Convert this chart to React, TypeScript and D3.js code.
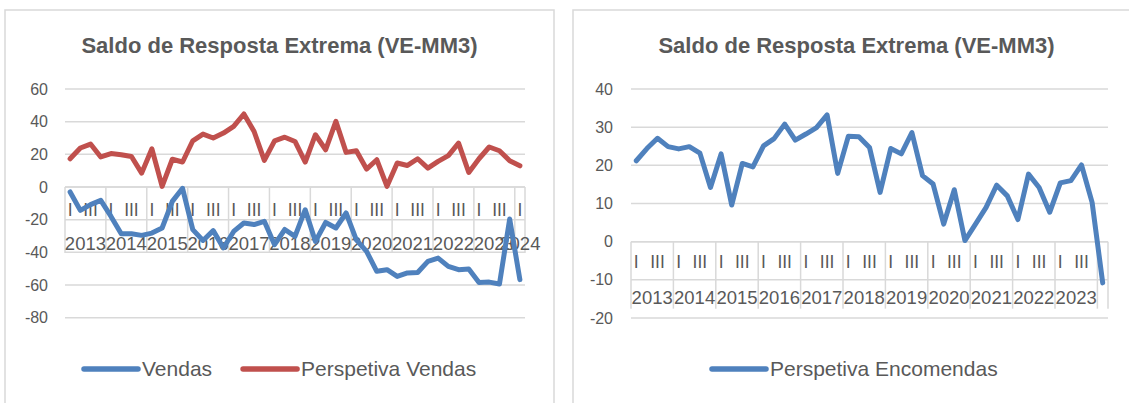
import React, { useEffect, useRef } from 'react'
import * as d3 from 'd3'

const years = ['2013', '2014', '2015', '2016', '2017', '2018', '2019', '2020', '2021', '2022', '2023', '2024']
const quarters = ['I', 'II', 'III', 'IV']
const categories = years.flatMap(y => quarters.map(q => `${y} ${q}`)).slice(0, 45)

const vendas = [
  -3, -14.3, -10.8, -8.2, -18, -28.6, -28.6, -29.6, -28.2, -25.1, -8.8, -0.8,
  -26.1, -32.7, -26.7, -37.3, -27.2, -22, -23, -21, -35.3, -26, -30.2, -13.9,
  -33.3, -21.7, -25.1, -15.9, -32.3, -39.4, -51.6, -50.6, -54.7, -52.6, -52.3, -45.5,
  -43.5, -48.6, -50.6, -50.2, -58.4, -58.2, -59.4, -19.6, -56.7,
]
const perspetivaVendas = [
  17.3, 23.9, 26.3, 18.4, 20.5, 19.8, 18.7, 8.5, 23.4, 0.4, 17, 15.3,
  28.3, 32.4, 30, 33, 37.1, 44.7, 34, 16.3, 28.3, 30.5, 27.9, 15.3,
  32, 22.8, 40.2, 21.2, 22.2, 11, 16.7, 0.4, 14.7, 13.2, 17.3, 11.6,
  15.7, 19.2, 26.9, 8.9, 17.3, 24.5, 22.2, 16.1, 13,
]
const perspetivaEncomendas = [
  21.2, 24.4, 27.1, 24.9, 24.3, 24.9, 23.2, 14.2, 23, 9.6, 20.5, 19.6,
  25.1, 27, 30.8, 26.6, 28.2, 29.9, 33.2, 17.9, 27.6, 27.5, 24.7, 12.9,
  24.4, 23, 28.6, 17.3, 15.1, 4.6, 13.6, 0.3, 4.6, 9, 14.8, 12,
  5.8, 17.7, 14.2, 7.7, 15.4, 16, 20.1, 10.3, -10.8,
]

const leftTicks = [60, 40, 20, 0, -20, -40, -60, -80]
const rightTicks = [40, 30, 20, 10, 0, -10, -20]

const BLUE = '#4f81bd'
const RED = '#c0504d'
const GRID = '#d9d9d9'
const TEXT = '#595959'
const FONT = '"Liberation Sans", Arial, sans-serif'

type Series = { name: string, values: number[], color: string }
type Panel = {
  box: [number, number]
  xRange: [number, number]
  yDomain: [number, number]
  yRange: [number, number]
  ticks: number[]
  labelRight: number
  qOffset: number
  yearOffset: number
  axisDepth: number
  labelCount: number
  series: Series[]
  legend: { x: number, gap: number }
}

function drawPanel(svg: d3.Selection<SVGSVGElement, unknown, null, undefined>, p: Panel) {
  const g = svg.append('g')
  g.append('rect').attr('x', p.box[0]).attr('y', 10).attr('width', p.box[1] - p.box[0]).attr('height', 420)
    .attr('fill', '#fff').attr('stroke', GRID).attr('stroke-width', 1.5)

  g.append('text').attr('x', (p.box[0] + p.box[1]) / 2).attr('y', 53).attr('text-anchor', 'middle')
    .attr('font-family', FONT).attr('font-size', 22).attr('font-weight', 'bold').attr('fill', TEXT)
    .text('Saldo de Resposta Extrema (VE-MM3)')

  const x = d3.scaleBand().domain(categories).range(p.xRange).paddingInner(0).paddingOuter(0)
  const y = d3.scaleLinear().domain(p.yDomain).range(p.yRange)
  const bw = x.bandwidth()

  // gridlines + value labels
  p.ticks.forEach(t => {
    g.append('line').attr('x1', p.xRange[0]).attr('x2', p.xRange[1]).attr('y1', y(t)).attr('y2', y(t))
      .attr('stroke', GRID).attr('stroke-width', 1.5)
    g.append('text').attr('x', p.labelRight).attr('y', y(t)).attr('dy', '0.35em').attr('text-anchor', 'end')
      .attr('font-family', FONT).attr('font-size', 16).attr('fill', TEXT).text(t)
  })

  // multi-level category axis crossing at zero
  const y0 = y(0)
  g.append('line').attr('x1', p.xRange[0]).attr('x2', p.xRange[1]).attr('y1', y0).attr('y2', y0)
    .attr('stroke', GRID).attr('stroke-width', 1.5)
  const bounds = years.map((_, k) => p.xRange[0] + k * 4 * bw).filter(v => v < p.xRange[1] - 1)
  bounds.concat([p.xRange[1]]).forEach(bx => {
    g.append('line').attr('x1', bx).attr('x2', bx).attr('y1', y0).attr('y2', y0 + p.axisDepth)
      .attr('stroke', GRID).attr('stroke-width', 1.5)
  })
  categories.forEach((c, i) => {
    if (i >= p.labelCount || i % 2 !== 0) return
    g.append('text').attr('x', x(c)! + bw / 2).attr('y', y0 + p.qOffset).attr('dy', '0.35em')
      .attr('text-anchor', 'middle').attr('font-family', FONT).attr('font-size', 17.5).attr('fill', TEXT)
      .text(quarters[i % 4])
  })
  years.forEach(yr => {
    const idx = categories.map((_, i) => i).filter(i => categories[i].startsWith(yr) && i < p.labelCount)
    if (!idx.length) return
    const cx = (x(categories[idx[0]])! + x(categories[idx[idx.length - 1]])! + bw) / 2
    g.append('text').attr('x', cx).attr('y', y0 + p.yearOffset).attr('dy', '0.35em')
      .attr('text-anchor', 'middle').attr('font-family', FONT).attr('font-size', 18.5).attr('fill', TEXT)
      .text(yr)
  })

  const line = d3.line<number>().x((_, i) => x(categories[i])! + bw / 2).y(d => y(d))
  p.series.forEach(s => {
    g.append('path').attr('d', line(s.values)).attr('fill', 'none').attr('stroke', s.color)
      .attr('stroke-width', 5).attr('stroke-linejoin', 'round').attr('stroke-linecap', 'round')
  })

  // legend
  let lx = p.legend.x
  p.series.forEach(s => {
    g.append('line').attr('x1', lx).attr('x2', lx + 54).attr('y1', 369).attr('y2', 369)
      .attr('stroke', s.color).attr('stroke-width', 5.5).attr('stroke-linecap', 'round')
    const t = g.append('text').attr('x', lx + 58).attr('y', 369).attr('dy', '0.35em')
      .attr('font-family', FONT).attr('font-size', 21).attr('fill', TEXT).text(s.name)
    const w = (t.node() as SVGTextElement).getComputedTextLength()
    lx += 58 + w + p.legend.gap
  })
}

export default function App() {
  const ref = useRef<SVGSVGElement | null>(null)

  useEffect(() => {
    if (!ref.current) return
    const svg = d3.select(ref.current)
    svg.selectAll('*').remove()
    svg.append('rect').attr('width', 1129).attr('height', 403).attr('fill', '#fff')

    drawPanel(svg, {
      box: [5, 554], xRange: [65, 525], yDomain: [-80, 60], yRange: [317.7, 89], ticks: leftTicks,
      labelRight: 48, qOffset: 23, yearOffset: 57, axisDepth: 66, labelCount: 45,
      series: [
        { name: 'Vendas', values: vendas, color: BLUE },
        { name: 'Perspetiva Vendas', values: perspetivaVendas, color: RED },
      ],
      legend: { x: 84, gap: 31 },
    })
    drawPanel(svg, {
      box: [573, 1140], xRange: [631, 1108], yDomain: [-20, 40], yRange: [318, 89], ticks: rightTicks,
      labelRight: 613, qOffset: 20.5, yearOffset: 55.5, axisDepth: 67, labelCount: 44,
      series: [{ name: 'Perspetiva Encomendas', values: perspetivaEncomendas, color: BLUE }],
      legend: { x: 712, gap: 30 },
    })
  }, [])

  return <svg ref={ref} width={1129} height={403} style={{ position: 'absolute', left: 0, top: 0 }} />
}
